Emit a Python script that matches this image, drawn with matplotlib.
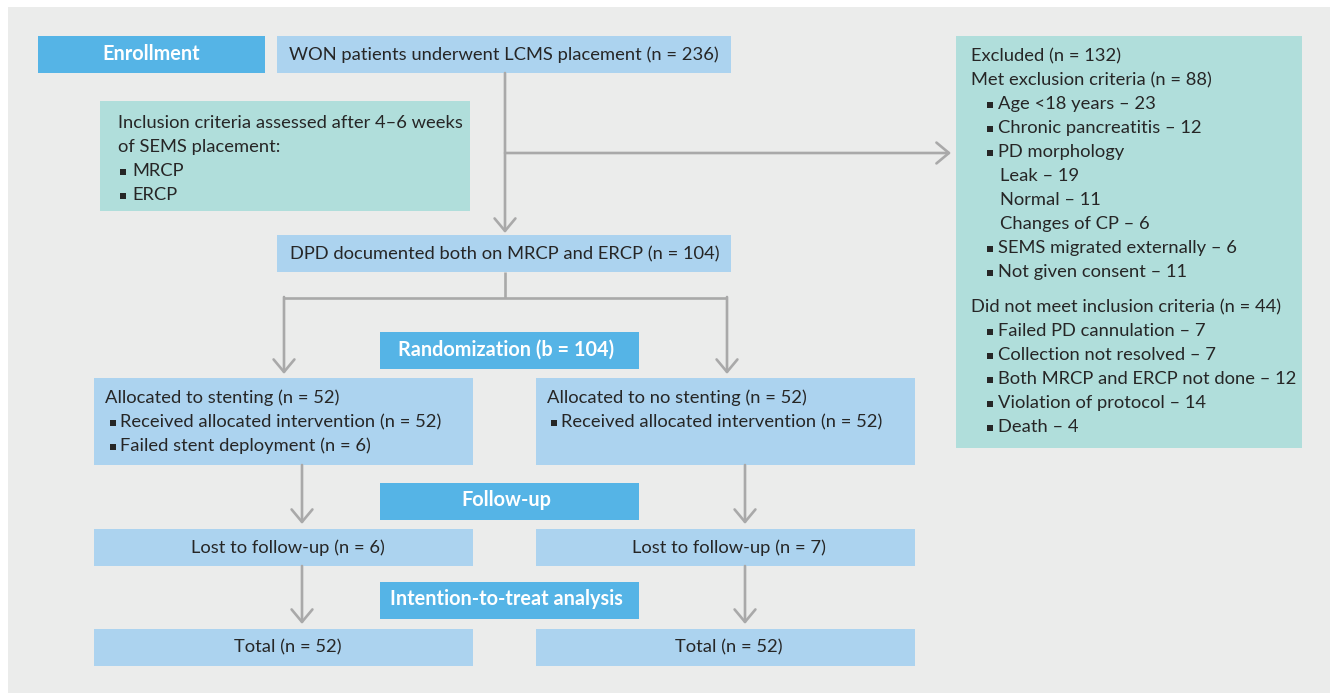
import matplotlib
matplotlib.use("Agg")
import matplotlib.pyplot as plt
from matplotlib.patches import Rectangle, FancyArrowPatch

FONT = ["Lato", "DejaVu Sans"]
TXT = "#262626"
HEAD = "#55b4e6"
LIGHT = "#acd3ef"
TEAL = "#b0dedb"
BG = "#ebeceb"
LINE = "#a9a9a9"

# ---- data: flowchart texts ----
enroll_label = "Enrollment"
won_text = "WON patients underwent LCMS placement (n = 236)"
inclusion_head = ["Inclusion criteria assessed after 4\u20136 weeks", "of SEMS placement:"]
inclusion_items = ["MRCP", "ERCP"]
dpd_text = "DPD documented both on MRCP and ERCP (n = 104)"
random_label = "Randomization (b = 104)"
followup_label = "Follow-up"
itt_label = "Intention-to-treat analysis"
alloc_left_head = "Allocated to stenting (n = 52)"
alloc_left_items = ["Received allocated intervention (n = 52)", "Failed stent deployment (n = 6)"]
alloc_right_head = "Allocated to no stenting (n = 52)"
alloc_right_items = ["Received allocated intervention (n = 52)"]
lost_texts = ["Lost to follow-up (n = 6)", "Lost to follow-up (n = 7)"]
total_texts = ["Total (n = 52)", "Total (n = 52)"]
excl_lines = [
    ("head", "Excluded (n = 132)"),
    ("head", "Met exclusion criteria (n = 88)"),
    ("bullet", "Age <18 years \u2013 23"),
    ("bullet", "Chronic pancreatitis \u2013 12"),
    ("bullet", "PD morphology"),
    ("sub", "Leak \u2013 19"),
    ("sub", "Normal \u2013 11"),
    ("sub", "Changes of CP \u2013 6"),
    ("bullet", "SEMS migrated externally \u2013 6"),
    ("bullet", "Not given consent \u2013 11"),
    ("gap", ""),
    ("head", "Did not meet inclusion criteria (n = 44)"),
    ("bullet", "Failed PD cannulation \u2013 7"),
    ("bullet", "Collection not resolved \u2013 7"),
    ("bullet", "Both MRCP and ERCP not done \u2013 12"),
    ("bullet", "Violation of protocol \u2013 14"),
    ("bullet", "Death \u2013 4"),
]

W, H = 1330, 693
fig = plt.figure(figsize=(W / 100, H / 100), dpi=100)
fig.patch.set_facecolor("white")
ax = fig.add_axes([0, 0, 1, 1])
ax.set_xlim(0, W)
ax.set_ylim(H, 0)
ax.axis("off")

FS = 13.2
FSB = 14.3

def box(x0, y0, x1, y1, color):
    ax.add_patch(Rectangle((x0, y0), x1 - x0, y1 - y0, facecolor=color, edgecolor="none", zorder=1))

def txt(x, y, s, ha="left", bold=False, color=TXT, size=None):
    if size is None:
        size = FSB if bold else FS
    ax.text(x, y, s, ha=ha, va="center", fontsize=size, family=FONT, color=color,
            fontweight="bold" if bold else "normal", zorder=3)

def bullet(x, y):
    ax.plot([x + 3], [y + 0.5], marker="s", ms=3.7, mew=0, color=TXT, zorder=3)

def line(xs, ys):
    ax.plot(xs, ys, color=LINE, lw=1.9, solid_capstyle="butt", solid_joinstyle="miter", zorder=2)

def arrow(x0, y0, x1, y1):
    a = FancyArrowPatch((x0, y0), (x1, y1), arrowstyle="->,head_length=0.9,head_width=0.75",
                        mutation_scale=10, color=LINE, lw=1.9, shrinkA=0, shrinkB=0, zorder=2)
    ax.add_patch(a)

# background panel
box(8, 7, W, H, BG)

# boxes
box(38, 36, 265, 73, HEAD)
box(277, 36, 731, 73, LIGHT)
box(100, 101, 470, 211, TEAL)
box(956, 36, 1302, 448, TEAL)
box(277, 235, 731, 272, LIGHT)
box(380, 332, 639, 369, HEAD)
box(94, 378, 473, 465, LIGHT)
box(536, 378, 915, 465, LIGHT)
box(380, 483, 639, 520, HEAD)
box(94, 529, 473, 566, LIGHT)
box(536, 529, 915, 566, LIGHT)
box(380, 582, 639, 619, HEAD)
box(94, 629, 473, 666, LIGHT)
box(536, 629, 915, 666, LIGHT)

# connectors
arrow(505, 73, 505, 233)
arrow(505, 153, 951, 153)
line([505, 505], [272, 298])
line([284, 727], [298, 298])
arrow(284, 297, 284, 374)
arrow(727, 297, 727, 374)
arrow(302, 465, 302, 524)
arrow(745, 465, 745, 524)
arrow(302, 566, 302, 624)
arrow(745, 566, 745, 624)

# texts
txt(151, 54, enroll_label, ha="center", bold=True, color="white")
txt(289, 55, won_text)
for i, s in enumerate(inclusion_head):
    txt(118, 123 + 24 * i, s)
for i, s in enumerate(inclusion_items):
    bullet(120, 171 + 24 * i)
    txt(132, 171 + 24 * i, s)
txt(505, 254, dpd_text, ha="center")
txt(506, 350, random_label, ha="center", bold=True, color="white")
txt(506, 500, followup_label, ha="center", bold=True, color="white")
txt(506, 599, itt_label, ha="center", bold=True, color="white")

txt(105, 398, alloc_left_head)
for i, s in enumerate(alloc_left_items):
    bullet(110, 422 + 24 * i)
    txt(120, 422 + 24 * i, s)
txt(547, 398, alloc_right_head)
for i, s in enumerate(alloc_right_items):
    bullet(551, 422 + 24 * i)
    txt(561, 422 + 24 * i, s)

for i, s in enumerate(lost_texts):
    txt([288, 729][i], 548, s, ha="center")
for i, s in enumerate(total_texts):
    txt([288, 729][i], 647, s, ha="center")

y = 56
for kind, s in excl_lines:
    if kind == "gap":
        y += 11
        continue
    if kind == "head":
        txt(971, y, s)
    elif kind == "bullet":
        bullet(987, y)
        txt(998, y, s)
    else:
        txt(1000, y, s)
    y += 24

fig.savefig("out.png", dpi=100, facecolor=fig.get_facecolor())
